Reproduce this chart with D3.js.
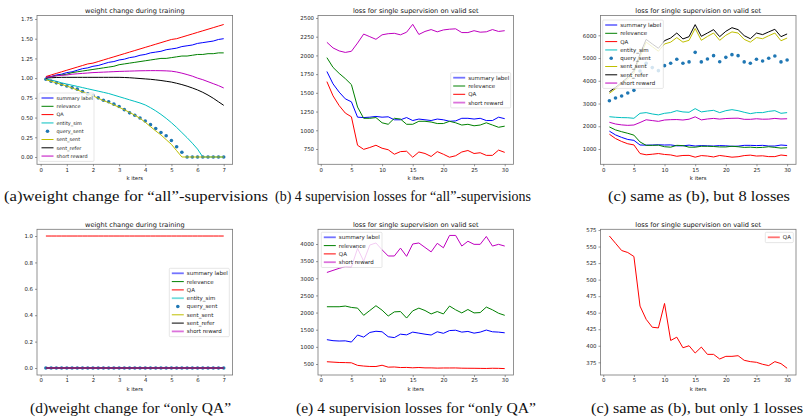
<!DOCTYPE html>
<html><head><meta charset="utf-8">
<script src="https://cdn.jsdelivr.net/npm/d3@7"></script>
<style>body{margin:0;background:#fff}svg{display:block}</style>
</head><body>
<svg id="chart" width="804" height="417"></svg>
<script>
// ---------- DATA ----------
const kItersWeight = [0.2,0.4,0.6,0.8,1.0,1.2,1.4,1.6,1.8,2.0,2.2,2.4,2.6,2.8,3.0,3.2,3.4,3.6,3.8,4.0,4.2,4.4,4.6,4.8,5.0,5.2,5.4,5.6,5.8,6.0,6.2,6.4,6.6,6.8,7.0];
const kItersLoss = [1,2,3,4,5,6,7,8,9,10,11,12,13,14,15,16,17,18,19,20,21,22,23,24,25,26,27,28,29,30];

const seriesNames = ["summary label","relevance","QA","entity_sim","query_sent","sent_sent","sent_refer","short reward"];

// (a) weight change, all supervisions
const wSummary   = [1.01,1.02,1.04,1.05,1.07,1.08,1.10,1.12,1.13,1.15,1.16,1.18,1.20,1.21,1.23,1.24,1.26,1.27,1.29,1.30,1.32,1.33,1.34,1.36,1.37,1.38,1.40,1.41,1.42,1.44,1.45,1.46,1.47,1.49,1.50];
const wRelevance = [1.01,1.02,1.03,1.04,1.05,1.07,1.08,1.09,1.10,1.11,1.12,1.13,1.14,1.15,1.17,1.18,1.19,1.20,1.21,1.22,1.23,1.24,1.25,1.25,1.26,1.27,1.28,1.28,1.29,1.30,1.30,1.31,1.31,1.32,1.32];
const wQA        = [1.02,1.04,1.06,1.08,1.10,1.12,1.14,1.16,1.18,1.19,1.21,1.23,1.25,1.27,1.29,1.31,1.33,1.35,1.37,1.39,1.41,1.43,1.45,1.47,1.49,1.50,1.52,1.54,1.56,1.58,1.60,1.62,1.64,1.66,1.68];
const wEntity    = [0.99,0.975,0.96,0.94,0.925,0.91,0.895,0.88,0.865,0.85,0.835,0.82,0.805,0.785,0.765,0.745,0.725,0.705,0.685,0.66,0.625,0.585,0.54,0.49,0.435,0.375,0.31,0.245,0.175,0.10,0,0,0,0,0];
const wQuery     = [0.985,0.96,0.94,0.92,0.90,0.88,0.86,0.83,0.80,0.78,0.75,0.72,0.70,0.67,0.64,0.60,0.56,0.53,0.495,0.456,0.41,0.36,0.31,0.27,0.21,0.13,0.06,0,0,0,0,0,0,0,0];
const wSentSent  = [0.98,0.96,0.94,0.92,0.90,0.875,0.85,0.825,0.80,0.775,0.745,0.715,0.69,0.66,0.63,0.60,0.565,0.53,0.49,0.44,0.385,0.33,0.28,0.22,0.16,0.08,0,0,0,0,0,0,0,0,0];
const wSentRefer = [1.00,1.005,1.008,1.01,1.01,1.01,1.01,1.01,1.01,1.01,1.01,1.01,1.01,1.01,1.01,1.008,1.005,1.00,0.995,0.99,0.985,0.978,0.97,0.96,0.95,0.935,0.918,0.898,0.875,0.85,0.82,0.785,0.745,0.70,0.655];
const wShort     = [1.01,1.02,1.03,1.035,1.04,1.05,1.055,1.06,1.065,1.07,1.073,1.076,1.079,1.082,1.085,1.087,1.089,1.091,1.093,1.094,1.095,1.095,1.094,1.092,1.088,1.078,1.063,1.045,1.025,1.00,0.98,0.955,0.93,0.905,0.875];

// (d) weight change, only QA
const wOnlyQA   = [1,1,1,1,1,1,1,1,1,1,1,1,1,1,1,1,1,1,1,1,1,1,1,1,1,1,1,1,1,1,1,1,1,1,1];
const wOnlyZero = [0,0,0,0,0,0,0,0,0,0,0,0,0,0,0,0,0,0,0,0,0,0,0,0,0,0,0,0,0,0,0,0,0,0,0];

// (b)/(c) losses, all supervisions
const lSummary = [1785,1620,1510,1420,1380,1175,1170,1175,1185,1175,1180,1140,1140,1170,1130,1150,1140,1130,1150,1140,1120,1125,1160,1160,1150,1160,1130,1130,1175,1155];
const lRelevance = [1970,1840,1760,1690,1610,1310,1160,1160,1170,1100,1080,1160,1150,1080,1080,1120,1120,1110,1090,1090,1120,1100,1070,1080,1060,1070,1100,1070,1040,1055];
const lQA = [1650,1460,1330,1230,1180,800,745,770,800,760,740,680,715,720,640,710,690,650,715,680,640,660,710,730,690,700,665,665,735,705];
const lShort = [2175,2100,2060,2040,2055,2165,2285,2250,2215,2275,2290,2295,2275,2310,2415,2280,2320,2345,2315,2340,2350,2355,2305,2305,2330,2310,2315,2345,2320,2330];
const lEntity = [2420,2395,2380,2375,2350,2570,2600,2540,2500,2570,2600,2685,2630,2615,2775,2630,2670,2700,2600,2685,2730,2685,2615,2555,2600,2600,2655,2685,2570,2600];
const lQuery = [3125,3245,3330,3465,3580,4430,4770,4580,4445,4665,4770,4945,4770,4830,5250,4830,4960,5105,4840,5030,5150,5105,4830,4770,4945,4870,4990,5090,4830,4915];
const lSentSent = [3450,3650,3870,4080,4350,5050,5700,5500,5300,5620,5700,5900,5700,5780,6300,5780,5950,6100,5780,6000,6150,6100,5820,5700,5900,5850,5980,6100,5760,5880];
const lSentRefer = [3520,3710,3930,4150,4450,5180,5820,5620,5430,5765,5880,6100,5840,5940,6470,5955,6100,6250,5940,6175,6335,6250,5985,5850,6100,6030,6150,6265,5940,6060];

// (e)/(f) losses, only QA
const oSummary = [1210,1180,1170,1175,1140,1345,1285,1420,1455,1440,1295,1270,1370,1350,1430,1400,1370,1345,1440,1395,1475,1485,1430,1450,1400,1430,1490,1440,1430,1410];
const oRelevance = [2170,2170,2170,2190,2150,2130,1920,2060,2200,2070,1900,2020,2030,1840,2050,2130,2060,1960,2030,1960,2190,2080,1990,2090,1990,2000,2160,2080,1980,1920];
const oQA = [566,555,544,541,535,460,440,428,427,464,408,413,397,400,389,398,387,387,380,384,384,385,378,376,375,372,370,376,373,366];
const oShort = [3170,3230,3290,3340,3330,3870,3500,3970,4030,3830,3650,3650,3880,3640,4000,4030,3900,3770,4020,3890,4250,4250,3940,4080,3990,3990,4220,3940,3990,3940];

// tick labels
const xTicksWeight = [0,1,2,3,4,5,6,7];
const xTicksLoss = [0,5,10,15,20,25,30];
const yTicksA = [0,0.25,0.5,0.75,1.0,1.25,1.5,1.75];
const yTicksB = [750,1000,1250,1500,1750,2000,2250,2500];
const yTicksC = [1000,2000,3000,4000,5000,6000];
const yTicksD = [0,0.2,0.4,0.6,0.8,1.0];
const yTicksE = [500,1000,1500,2000,2500,3000,3500,4000];
const yTicksF = [375,400,425,450,475,500,525,550,575];

const captions = [
  "(a)weight change for \u201call\u201d-supervisions",
  "(b) 4 supervision losses for \u201call\u201d-supervisions",
  "(c) same as (b), but 8 losses",
  "(d)weight change for \u201conly QA\u201d",
  "(e) 4 supervision losses for \u201conly QA\u201d",
  "(c) same as (b), but only 1 losses"
];
const titleWeight = "weight change during training";
const titleLoss = "loss for single supervision on valid set";

// ---------- STYLE ----------
const COL = {"summary label":"#0000ff","relevance":"#008000","QA":"#ff0000","entity_sim":"#00bfbf",
  "query_sent":"#1f77b4","sent_sent":"#bfbf00","sent_refer":"#000000","short reward":"#bf00bf"};
const FAINT = {"summary label":1,"entity_sim":1,"short reward":1};
const FONT = "DejaVu Sans, sans-serif";
const svg = d3.select("#chart");

function mk(names, arrays){ return names.map((n,i)=>({name:n, values:arrays[i], dot:n==="query_sent"})); }

const panels = [
 {xs:kItersWeight, L:37, R:232.6, T:15.5, B:164.3, xd:[-0.14,7.34], yd:[-0.0926,1.794], xt:xTicksWeight, yt:yTicksA, yf:d3.format(".2f"),
  title:titleWeight, cap:captions[0], capX:4, capW:264, capY:200.5,
  series:mk(seriesNames,[wSummary,wRelevance,wQA,wEntity,wQuery,wSentSent,wSentRefer,wShort]),
  leg:{x:39,y:93,w:55,fs:4.9}},
 {xs:kItersLoss, L:318, R:513.6, T:15.5, B:164.3, xd:[-0.45,31.45], yd:[545.6,2533], xt:xTicksLoss, yt:yTicksB, yf:d3.format("d"),
  title:titleLoss, cap:captions[1], capX:275, capW:256, capY:200.5,
  series:mk(["summary label","relevance","QA","short reward"],[lSummary,lRelevance,lQA,lShort]),
  leg:{x:450.7,y:72.7,w:60,fs:5.5}},
 {xs:kItersLoss, L:600.5, R:796, T:15.5, B:164.3, xd:[-0.45,31.45], yd:[327,6871], xt:xTicksLoss, yt:yTicksC, yf:d3.format("d"),
  title:titleLoss, cap:captions[2], capX:608, capW:182, capY:200.5,
  series:mk(seriesNames,[lSummary,lRelevance,lQA,lEntity,lQuery,lSentSent,lSentRefer,lShort]),
  leg:{x:602.7,y:20,w:60.6,fs:5.5}},
 {xs:kItersWeight, L:37, R:232.6, T:229.3, B:375, xd:[-0.14,7.34], yd:[-0.053,1.051], xt:xTicksWeight, yt:yTicksD, yf:d3.format(".1f"),
  title:titleWeight, cap:captions[3], capX:30, capW:201, capY:413.3,
  series:mk(seriesNames,[wOnlyZero,wOnlyZero,wOnlyQA,wOnlyZero,wOnlyZero,wOnlyZero,wOnlyZero,wOnlyZero]),
  leg:{x:169.3,y:268.3,w:60,fs:5.5}},
 {xs:kItersLoss, L:318, R:513.6, T:229.3, B:375, xd:[-0.45,31.45], yd:[179.2,4428.7], xt:xTicksLoss, yt:yTicksE, yf:d3.format("d"),
  title:titleLoss, cap:captions[4], capX:296, capW:240, capY:413.3,
  series:mk(["summary label","relevance","QA","short reward"],[oSummary,oRelevance,oQA,oShort]),
  leg:{x:321.3,y:232.3,w:60.7,fs:5.5}},
 {xs:kItersLoss, L:600.5, R:796, T:229.3, B:375, xd:[-0.45,31.45], yd:[355.8,576.1], xt:xTicksLoss, yt:yTicksF, yf:d3.format("d"),
  title:titleLoss, cap:captions[5], capX:591, capW:212, capY:413.3,
  series:mk(["QA"],[oQA]), faintQA:true,
  leg:{x:765.3,y:232.3,w:28,fs:5.5}}
];

panels.forEach(p=>{
  const x = d3.scaleLinear().domain(p.xd).range([p.L,p.R]);
  const y = d3.scaleLinear().domain(p.yd).range([p.B,p.T]);
  const g = svg.append("g");
  const line = d3.line().x((d,i)=>x(p.xs[i])).y(d=>y(d));
  p.series.forEach(s=>{
    if(s.dot){
      g.append("g").selectAll("circle").data(s.values).join("circle")
        .attr("cx",(d,i)=>x(p.xs[i])).attr("cy",d=>y(d)).attr("r",1.8).attr("fill",COL[s.name]);
    } else {
      g.append("path").attr("d",line(s.values)).attr("fill","none")
        .attr("stroke",COL[s.name]).attr("stroke-width",1).attr("stroke-linejoin","round");
    }
  });
  g.append("rect").attr("x",p.L).attr("y",p.T).attr("width",p.R-p.L).attr("height",p.B-p.T)
    .attr("fill","none").attr("stroke","#777").attr("stroke-width",0.8);
  const xa = g.append("g").attr("transform",`translate(0,${p.B})`)
    .call(d3.axisBottom(x).tickValues(p.xt).tickSize(2).tickPadding(1.5).tickFormat(d3.format("d")));
  const ya = g.append("g").attr("transform",`translate(${p.L},0)`)
    .call(d3.axisLeft(y).tickValues(p.yt).tickSize(2).tickPadding(2).tickFormat(p.yf));
  [xa,ya].forEach(a=>{
    a.select(".domain").remove();
    a.attr("font-family",FONT).attr("font-size",5.4);
    a.selectAll("line").attr("stroke","#555").attr("stroke-width",0.6);
    a.selectAll("text").attr("fill","#222");
  });
  // title
  g.append("text").attr("x",(p.L+p.R)/2).attr("y",p.T-2.3).attr("text-anchor","middle")
    .attr("font-family",FONT).attr("font-size",6.6).attr("fill","#111").text(p.title);
  // x label
  g.append("text").attr("x",(p.L+p.R)/2).attr("y",p.B+15.5).attr("text-anchor","middle")
    .attr("font-family",FONT).attr("font-size",5.4).attr("fill","#222").text("k iters");
  // caption
  svg.append("text").attr("x",p.capX).attr("y",p.capY)
    .attr("font-family","Liberation Serif, serif").attr("font-size",14.5).attr("fill","#111")
    .attr("textLength",p.capW).attr("lengthAdjust","spacingAndGlyphs").text(p.cap);
  // legend
  const lg = p.leg, n = p.series.length, sp = 8.3;
  const L = g.append("g");
  L.append("rect").attr("x",lg.x).attr("y",lg.y).attr("width",lg.w).attr("height",sp*n+2)
    .attr("rx",1).attr("fill","#fff").attr("fill-opacity",0.8).attr("stroke","#ccc").attr("stroke-width",0.5);
  p.series.forEach((s,i)=>{
    const cy = lg.y+5+i*sp;
    if(s.dot){
      L.append("circle").attr("cx",lg.x+8.5).attr("cy",cy).attr("r",1.8).attr("fill",COL[s.name]);
    } else {
      const faint = FAINT[s.name] || p.faintQA;
      L.append("line").attr("x1",lg.x+2.5).attr("x2",lg.x+14.5).attr("y1",cy).attr("y2",cy)
        .attr("stroke",COL[s.name]).attr("stroke-width",faint?1.8:1).attr("stroke-opacity",faint?0.55:1);
    }
    L.append("text").attr("x",lg.x+17.5).attr("y",cy).attr("dy","0.35em")
      .attr("font-family",FONT).attr("font-size",lg.fs).attr("fill","#222").text(s.name);
  });
});
</script>
</body></html>
